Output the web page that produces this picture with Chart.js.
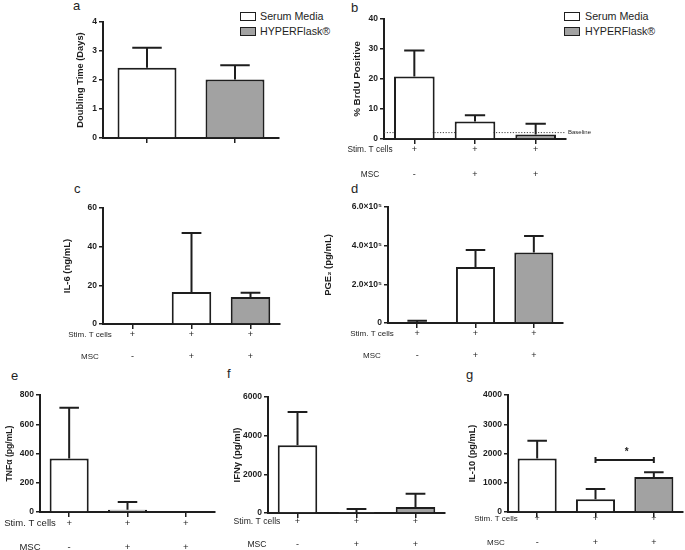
<!DOCTYPE html>
<html><head><meta charset="utf-8">
<title>MSC co-culture figure</title>
<script src="https://cdn.jsdelivr.net/npm/chart.js@4.4.1/dist/chart.umd.min.js"></script>
<style>
html,body{margin:0;padding:0;background:#fff;}
body{position:relative;width:685px;height:550px;overflow:hidden;font-family:"Liberation Sans",Arial,sans-serif;color:#1e1e1e;}
canvas{position:absolute;display:block;}
.letter{position:absolute;font-size:13px;line-height:13px;font-family:"Liberation Sans",Arial,sans-serif;}
.legtxt{position:absolute;font-size:10.7px;line-height:12px;white-space:nowrap;}
.sw{position:absolute;box-sizing:border-box;width:16px;height:9px;border:1.6px solid #1e1e1e;}
</style></head><body>
<script>
// ---------------- data ----------------
const legendLabels = ["Serum Media", "HYPERFlask®"];
const rowTitles = ["Stim. T cells", "MSC"];
const stimRow = ["+", "+", "+"];
const mscRow = ["-", "+", "+"];

const aCategories = ["Serum Media", "HYPERFlask®"];
const aValues = [2.42, 2.02];
const aSD = [0.69, 0.49];

const bValues = [20.8, 5.8, 1.5];
const bSD = [8.7, 2.1, 3.6];
const bBaseline = 2.3;
const bBaselineLabel = "Baseline";

const cValues = [0, 16.6, 14.0];
const cSD = [0, 30.5, 2.2];

const dValues = [3000, 290000, 365000];
const dSD = [9000, 87000, 85000];
const dTickLabels = ["0", "2.0×10⁵", "4.0×10⁵", "6.0×10⁵"];

const eValues = [366, 16, 0];
const eSD = [347, 53, 0];

const fValues = [3500, 20, 309];
const fSD = [1728, 186, 684];

const gValues = [1830, 435, 1200];
const gSD = [604, 354, 161];
const gSigFrom = 1, gSigTo = 2, gSigLevel = 1775, gSigLabel = "*";

// ---------------- styles ----------------
const INK = "#1e1e1e";
const WHITE = "#ffffff";
const GREY = "#a2a2a2";
const FONT = "'Liberation Sans', Arial, sans-serif";

// ---------------- static text ----------------
function addDiv(cls, text, left, top, extra) {
  const d = document.createElement('div');
  d.className = cls; d.textContent = text;
  d.style.left = left + 'px'; d.style.top = top + 'px';
  if (extra) Object.assign(d.style, extra);
  document.body.appendChild(d);
  return d;
}
[["a",73,-1],["b",351,1],["c",74,182],["d",351,182],["e",11,369],["f",227,367],["g",466,368]]
  .forEach(([t,x,y]) => addDiv('letter', t, x, y));

function addLegend(boxX, textX, y0) {
  const fills = [WHITE, GREY];
  legendLabels.forEach((lab, i) => {
    const y = y0 + i * 15;
    addDiv('sw', '', boxX, y, {background: fills[i]});
    addDiv('legtxt', lab, textX, y - 1.5);
  });
}
addLegend(240, 260, 11.5);
addLegend(564, 585, 11.5);

// ---------------- plugins ----------------
function makeErrorBars(sd) {
  return {
    id: 'errorBars',
    afterDatasetsDraw(chart) {
      const meta = chart.getDatasetMeta(0);
      const ys = chart.scales.y;
      const vals = chart.data.datasets[0].data;
      const ctx = chart.ctx;
      ctx.save();
      ctx.strokeStyle = INK; ctx.lineWidth = 2; ctx.lineCap = 'butt';
      meta.data.forEach((bar, i) => {
        if (!sd[i]) return;
        const yTop = ys.getPixelForValue(vals[i] + sd[i]);
        const half = bar.width / 4;
        ctx.beginPath();
        ctx.moveTo(bar.x, bar.y); ctx.lineTo(bar.x, yTop);
        ctx.moveTo(bar.x - half, yTop); ctx.lineTo(bar.x + half, yTop);
        ctx.stroke();
      });
      ctx.restore();
    }
  };
}
function makeRowTitles(titles, x, size) {
  return {
    id: 'rowTitles',
    afterDraw(chart) {
      const xs = chart.scales.x;
      const o = xs.options;
      const font = Chart.helpers.toFont(o.ticks.font);
      const L = font.lineHeight;
      const ctx = chart.ctx;
      ctx.save();
      ctx.fillStyle = INK;
      ctx.font = `normal ${size}px ${FONT}`;
      ctx.textAlign = 'center'; ctx.textBaseline = 'middle';
      titles.forEach((t, j) => {
        const y = xs.top + o.grid.tickLength + o.ticks.padding + L / 2 + j * L;
        ctx.fillText(t, x, y);
      });
      ctx.restore();
    }
  };
}
const baselinePlugin = {
  id: 'baseline',
  beforeDatasetsDraw(chart) {
    const {ctx, chartArea} = chart;
    const y = chart.scales.y.getPixelForValue(bBaseline);
    ctx.save();
    ctx.strokeStyle = '#444'; ctx.lineWidth = 1; ctx.setLineDash([1.2, 1.6]);
    ctx.beginPath(); ctx.moveTo(chartArea.left, y + 0.5); ctx.lineTo(chartArea.right, y + 0.5); ctx.stroke();
    ctx.setLineDash([]);
    ctx.fillStyle = INK; ctx.font = `normal 6px ${FONT}`;
    ctx.textAlign = 'left'; ctx.textBaseline = 'middle';
    ctx.fillText(bBaselineLabel, chartArea.right + 2, y + 0.5);
    ctx.restore();
  }
};
const sigPlugin = {
  id: 'sig',
  afterDatasetsDraw(chart) {
    const {ctx} = chart;
    const x1 = chart.scales.x.getPixelForValue(gSigFrom);
    const x2 = chart.scales.x.getPixelForValue(gSigTo);
    const y = chart.scales.y.getPixelForValue(gSigLevel);
    ctx.save();
    ctx.strokeStyle = INK; ctx.lineWidth = 2;
    ctx.beginPath();
    ctx.moveTo(x1, y); ctx.lineTo(x2, y);
    ctx.moveTo(x1, y - 3); ctx.lineTo(x1, y + 3);
    ctx.moveTo(x2, y - 3); ctx.lineTo(x2, y + 3);
    ctx.stroke();
    ctx.fillStyle = INK; ctx.font = `bold 10px ${FONT}`;
    ctx.textAlign = 'center'; ctx.textBaseline = 'middle';
    ctx.fillText(gSigLabel, (x1 + x2) / 2 + 2, y - 8);
    ctx.restore();
  }
};

// ---------------- panel builder ----------------
function buildPanel(p) {
  const cv = document.createElement('canvas');
  const w = p.canvas.r - p.canvas.l, h = p.canvas.b - p.canvas.t;
  cv.width = w; cv.height = h;
  Object.assign(cv.style, {left: p.canvas.l + 'px', top: p.canvas.t + 'px', width: w + 'px', height: h + 'px'});
  document.body.appendChild(cv);
  const plugins = [makeErrorBars(p.sd)];
  if (p.rows) plugins.push(makeRowTitles(rowTitles, p.rowX, p.rowFont));
  if (p.extra) plugins.push(...p.extra);
  const yW = p.area.l - p.canvas.l;
  const xH = p.canvas.b - p.area.b;
  new Chart(cv, {
    type: 'bar',
    data: {
      labels: p.labels,
      datasets: [{
        data: p.values, backgroundColor: p.fills, borderColor: INK,
        borderWidth: 2, borderSkipped: 'start', barPercentage: 1, categoryPercentage: 0.67
      }]
    },
    options: {
      responsive: false, animation: false, devicePixelRatio: 1,
      layout: {padding: {left: 0, top: p.area.t - p.canvas.t, right: p.canvas.r - p.area.r, bottom: 0}},
      plugins: {legend: {display: false}, tooltip: {enabled: false}},
      scales: {
        x: {
          type: 'category', offset: true,
          grid: {display: true, drawOnChartArea: false, drawTicks: true, tickLength: 5, offset: false, color: INK, lineWidth: 1.5},
          border: {display: true, color: INK, width: 2},
          ticks: {
            display: !!p.rows, autoSkip: false, maxRotation: 0, minRotation: 0, color: INK,
            padding: p.xPad || 0,
            font: {family: FONT, size: p.xFont || 9, lineHeight: (p.xLine || 22) + 'px'}
          },
          afterFit: s => { s.height = xH; }
        },
        y: {
          min: 0, max: p.yMax,
          grid: {display: true, drawOnChartArea: false, drawTicks: true, tickLength: 4, color: INK, lineWidth: 1.5},
          border: {display: true, color: INK, width: 2},
          ticks: {
            stepSize: p.yStep, color: INK, padding: 2,
            font: {family: FONT, size: 8.5, weight: 'bold'},
            callback: p.tickFmt || (v => String(v))
          },
          title: {
            display: true, text: p.yTitle, color: INK,
            font: {family: FONT, size: p.titleSize, weight: 'bold'},
            padding: {top: p.titlePad, bottom: 0}
          },
          afterFit: s => { s.width = yW; }
        }
      }
    },
    plugins
  });
}

const rowLabels = stimRow.map((s, i) => [s, mscRow[i]]);
const fills3 = [WHITE, WHITE, GREY];

buildPanel({
  canvas: {l: 70, t: 8, r: 290, b: 152}, area: {l: 103, t: 22, r: 279, b: 138},
  labels: aCategories, values: aValues, sd: aSD, fills: [WHITE, GREY],
  yMax: 4, yStep: 1, yTitle: "Doubling Time (Days)", titleSize: 9.3, titlePad: 4.4
});
buildPanel({
  canvas: {l: 345, t: 6, r: 600, b: 184}, area: {l: 384, t: 19, r: 566, b: 139},
  labels: rowLabels, values: bValues, sd: bSD, fills: fills3,
  yMax: 40, yStep: 10, yTitle: "% BrdU Positive", titleSize: 9.8, titlePad: 6,
  rows: true, rowX: 25, rowFont: 8.3, xFont: 9, xLine: 25, xPad: -6.5,
  extra: [baselinePlugin]
});
buildPanel({
  canvas: {l: 58, t: 196, r: 290, b: 368}, area: {l: 103, t: 208, r: 280, b: 324},
  labels: rowLabels, values: cValues, sd: cSD, fills: fills3,
  yMax: 60, yStep: 20, yTitle: "IL-6 (ng/mL)", titleSize: 9.5, titlePad: 3.3,
  rows: true, rowX: 32, rowFont: 8, xFont: 9, xLine: 22, xPad: -5.3
});
buildPanel({
  canvas: {l: 318, t: 196, r: 575, b: 368}, area: {l: 388, t: 207, r: 563, b: 323},
  labels: rowLabels, values: dValues, sd: dSD, fills: fills3,
  yMax: 600000, yStep: 200000, yTitle: "PGE₂ (pg/mL)", titleSize: 9.5, titlePad: 4.3,
  tickFmt: v => dTickLabels[Math.round(v / 200000)],
  rows: true, rowX: 54, rowFont: 8, xFont: 9, xLine: 22, xPad: -5.3
});
buildPanel({
  canvas: {l: 0, t: 384, r: 225, b: 550}, area: {l: 40, t: 395, r: 215, b: 512},
  labels: rowLabels, values: eValues, sd: eSD, fills: fills3,
  yMax: 800, yStep: 200, yTitle: "TNFα (pg/mL)", titleSize: 8.6, titlePad: 4.8,
  rows: true, rowX: 30, rowFont: 9.5, xFont: 9.5, xLine: 24, xPad: -5.7
});
buildPanel({
  canvas: {l: 227, t: 384, r: 452, b: 550}, area: {l: 268, t: 397, r: 445, b: 513},
  labels: rowLabels, values: fValues, sd: fSD, fills: fills3,
  yMax: 6000, yStep: 2000, yTitle: "IFNγ (pg/ml)", titleSize: 9.5, titlePad: 4.3,
  rows: true, rowX: 30, rowFont: 8.6, xFont: 9, xLine: 23, xPad: -8.1
});
buildPanel({
  canvas: {l: 460, t: 384, r: 685, b: 550}, area: {l: 508, t: 395, r: 683, b: 512},
  labels: rowLabels, values: gValues, sd: gSD, fills: fills3,
  yMax: 4000, yStep: 1000, yTitle: "IL-10 (pg/mL)", titleSize: 9.2, titlePad: 6.5,
  rows: true, rowX: 36, rowFont: 8, xFont: 9, xLine: 23.5, xPad: -9.75,
  extra: [sigPlugin]
});
</script>
</body></html>
